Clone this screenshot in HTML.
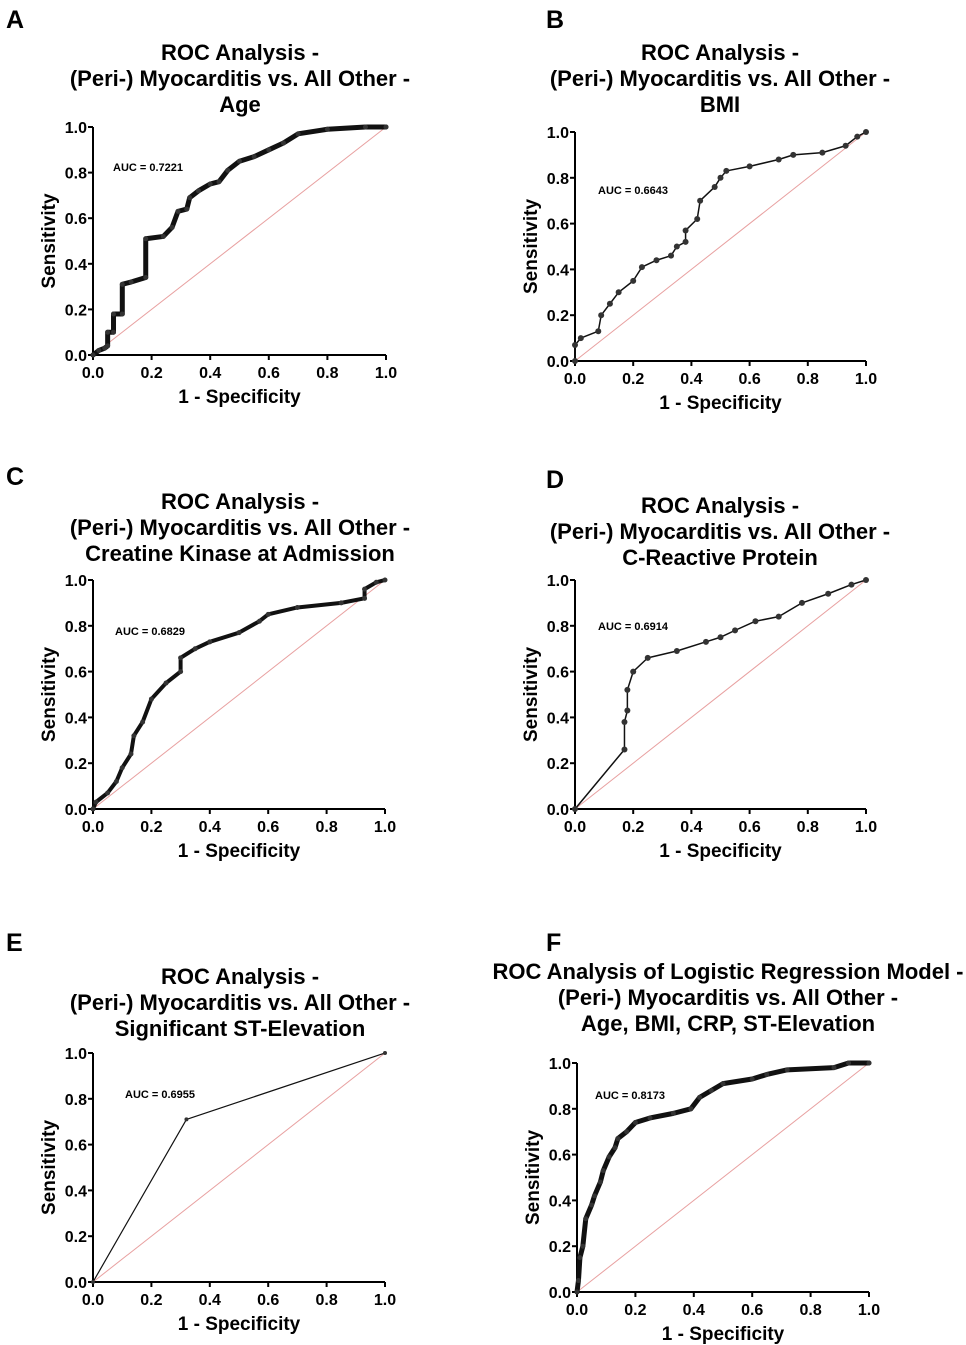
<!DOCTYPE html>
<html><head><meta charset="utf-8"><style>
html,body{margin:0;padding:0;background:#fff}
svg{display:block;font-family:"Liberation Sans",Arial,sans-serif}
</style></head><body>
<svg id="fig" width="966" height="1345" viewBox="0 0 966 1345" xmlns="http://www.w3.org/2000/svg"></svg>
<script>
const tickLabels = ["0.0","0.2","0.4","0.6","0.8","1.0"];
const tickValues = [0,0.2,0.4,0.6,0.8,1.0];
const aucA = "AUC = 0.7221", aucB = "AUC = 0.6643", aucC = "AUC = 0.6829", aucD = "AUC = 0.6914", aucE = "AUC = 0.6955", aucF = "AUC = 0.8173";
const fprA = [0,0.02,0.04,0.05,0.05,0.07,0.07,0.1,0.1,0.13,0.18,0.18,0.24,0.27,0.29,0.32,0.33,0.36,0.4,0.43,0.46,0.5,0.55,0.6,0.65,0.7,0.8,0.93,1];
const tprA = [0,0.02,0.03,0.04,0.1,0.1,0.18,0.18,0.31,0.32,0.34,0.51,0.52,0.56,0.63,0.64,0.69,0.72,0.75,0.76,0.81,0.85,0.87,0.9,0.93,0.97,0.99,1,1];
const fprB = [0,0,0.02,0.08,0.09,0.12,0.15,0.2,0.23,0.28,0.33,0.35,0.38,0.38,0.42,0.43,0.48,0.5,0.52,0.6,0.7,0.75,0.85,0.93,0.97,1];
const tprB = [0,0.07,0.1,0.13,0.2,0.25,0.3,0.35,0.41,0.44,0.46,0.5,0.52,0.57,0.62,0.7,0.76,0.8,0.83,0.85,0.88,0.9,0.91,0.94,0.98,1];
const fprC = [0,0.01,0.05,0.08,0.1,0.13,0.14,0.17,0.2,0.25,0.3,0.3,0.35,0.4,0.5,0.57,0.6,0.7,0.85,0.93,0.93,0.97,1];
const tprC = [0,0.03,0.07,0.12,0.18,0.24,0.32,0.38,0.48,0.55,0.6,0.66,0.7,0.73,0.77,0.82,0.85,0.88,0.9,0.92,0.96,0.99,1];
const fprD = [0,0.17,0.17,0.18,0.18,0.2,0.25,0.35,0.45,0.5,0.55,0.62,0.7,0.78,0.87,0.95,1];
const tprD = [0,0.26,0.38,0.43,0.52,0.6,0.66,0.69,0.73,0.75,0.78,0.82,0.84,0.9,0.94,0.98,1];
const fprE = [0,0.32,1];
const tprE = [0,0.71,1];
const fprF = [0,0.005,0.01,0.02,0.03,0.05,0.06,0.08,0.09,0.11,0.13,0.14,0.17,0.2,0.25,0.33,0.39,0.42,0.46,0.5,0.6,0.65,0.72,0.88,0.93,1];
const tprF = [0,0.05,0.15,0.2,0.32,0.38,0.42,0.48,0.53,0.59,0.63,0.67,0.7,0.74,0.76,0.78,0.8,0.85,0.88,0.91,0.93,0.95,0.97,0.98,1,1];

const NS="http://www.w3.org/2000/svg";
const svg=document.getElementById('fig');
function mk(tag,attrs,parent){const e=document.createElementNS(NS,tag);for(const k in attrs)e.setAttribute(k,attrs[k]);(parent||svg).appendChild(e);return e;}
function txt(s,attrs,parent){const e=mk('text',attrs,parent);e.textContent=s;return e;}

function panel(p){
  const g=mk('g',{});
  
  
  const sx=v=>p.x0+v*(p.x1-p.x0), sy=v=>p.y0+v*(p.y1-p.y0);
  const lab=txt(p.id,{x:p.lx,y:p.ly,'font-size':25,'font-weight':'bold'},g);
  
  
  p.title.forEach((t,i)=>{
    const e=txt(t,{x:p.tc,y:p.ty+i*26,'font-size':22,'font-weight':'bold','text-anchor':'middle'},g);
    
    
  });
  const d=mk('line',{x1:sx(0),y1:sy(0),x2:sx(1),y2:sy(1),stroke:'#e8a0a0','stroke-width':1},g);
  
  
  const ax=mk('path',{d:`M${sx(0)},${sy(1)} V${sy(0)} H${sx(1)}`,stroke:'#000','stroke-width':2,fill:'none'},g);
  
  
  tickValues.forEach((v,i)=>{
    mk('line',{x1:sx(0)-5,y1:sy(v),x2:sx(0),y2:sy(v),stroke:'#000','stroke-width':2},g);
    mk('line',{x1:sx(v),y1:sy(0),x2:sx(v),y2:sy(0)+5,stroke:'#000','stroke-width':2},g);
    const yl=txt(tickLabels[i],{x:sx(0)-6,y:sy(v)+6,'font-size':16,'font-weight':'bold','text-anchor':'end'},g);
    
    
    const xl=txt(tickLabels[i],{x:sx(v),y:sy(0)+23,'font-size':16,'font-weight':'bold','text-anchor':'middle'},g);
    
    
  });
  const xt=txt('1 - Specificity',{x:(sx(0)+sx(1))/2,y:sy(0)+48,'font-size':19,'font-weight':'bold','text-anchor':'middle'},g);
  
  
  const cy=(sy(0)+sy(1))/2, cx=sx(0)-38;
  const yt=txt('Sensitivity',{x:cx,y:cy,'font-size':19,'font-weight':'bold','text-anchor':'middle',transform:`rotate(-90 ${cx} ${cy})`},g);
  
  
  const at=txt(p.auc,{x:p.ax,y:p.ay,'font-size':11,'font-weight':'bold'},g);
  
  
  const pts=p.fpr.map((f,i)=>sx(f)+','+sy(p.tpr[i])).join(' ');
  const line=mk('polyline',{points:pts,fill:'none',stroke:'#111','stroke-width':p.lw,'stroke-linejoin':'round','stroke-linecap':'round'},g);
  
  
  p.fpr.forEach((f,i)=>{
    const c=mk('circle',{cx:sx(f),cy:sy(p.tpr[i]),r:p.mr,fill:'#333'},g);
    
    
  });
}
const T2="(Peri-) Myocarditis vs. All Other -";
panel({id:'A',x0:93,x1:386,y0:355,y1:127,lx:6,ly:28,tc:240,ty:60,title:["ROC Analysis -",T2,"Age"],auc:aucA,ax:113,ay:171,fpr:fprA,tpr:tprA,lw:5,mr:2.5});
panel({id:'B',x0:575,x1:866,y0:361,y1:132,lx:546,ly:28,tc:720,ty:60,title:["ROC Analysis -",T2,"BMI"],auc:aucB,ax:598,ay:194,fpr:fprB,tpr:tprB,lw:1.5,mr:3});
panel({id:'C',x0:93,x1:385,y0:809,y1:580,lx:6,ly:485,tc:240,ty:509,title:["ROC Analysis -",T2,"Creatine Kinase at Admission"],auc:aucC,ax:115,ay:635,fpr:fprC,tpr:tprC,lw:4,mr:2.5});
panel({id:'D',x0:575,x1:866,y0:809,y1:580,lx:546,ly:488,tc:720,ty:513,title:["ROC Analysis -",T2,"C-Reactive Protein"],auc:aucD,ax:598,ay:630,fpr:fprD,tpr:tprD,lw:1.5,mr:3});
panel({id:'E',x0:93,x1:385,y0:1282,y1:1053,lx:6,ly:951,tc:240,ty:984,title:["ROC Analysis -",T2,"Significant ST-Elevation"],auc:aucE,ax:125,ay:1098,fpr:fprE,tpr:tprE,lw:1.2,mr:2});
panel({id:'F',x0:577,x1:869,y0:1292,y1:1063,lx:546,ly:951,tc:728,ty:979,title:["ROC Analysis of Logistic Regression Model -",T2,"Age, BMI, CRP, ST-Elevation"],auc:aucF,ax:595,ay:1099,fpr:fprF,tpr:tprF,lw:5,mr:2.5});
</script>
</body></html>
